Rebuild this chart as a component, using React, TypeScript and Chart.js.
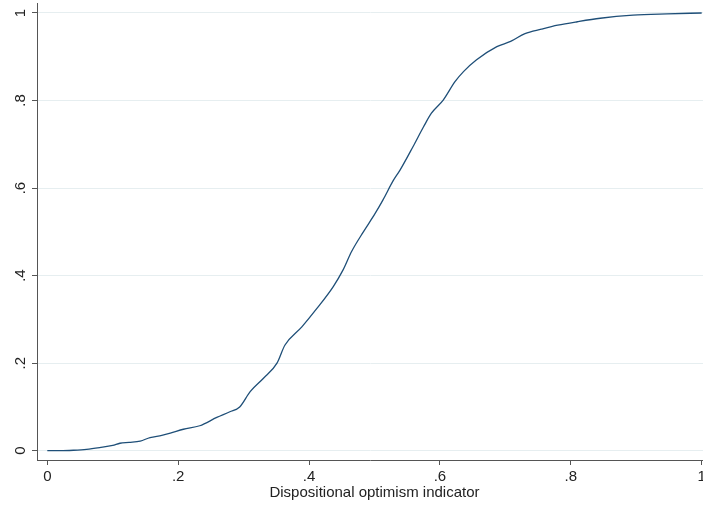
import React, { useEffect, useRef } from "react";
import { Chart, registerables } from "chart.js";

Chart.register(...registerables);

const optimismValues: number[] = [
  0, 0.02, 0.04, 0.06, 0.08, 0.1, 0.111, 0.125, 0.142, 0.157, 0.175, 0.188, 0.208, 0.233, 0.259, 0.279,
  0.294, 0.31, 0.33, 0.351, 0.363, 0.389, 0.412, 0.437, 0.452, 0.465, 0.483, 0.501, 0.513, 0.529, 0.539,
  0.559, 0.575, 0.587, 0.605, 0.623, 0.636, 0.656, 0.687, 0.708, 0.73, 0.755, 0.78, 0.81, 0.845, 0.895,
  0.947, 1.0,
];
const cumulativeShare: number[] = [
  0, 0, 0.001, 0.003, 0.007, 0.012, 0.017, 0.019, 0.022, 0.03, 0.035, 0.04, 0.049, 0.057, 0.076, 0.089,
  0.1, 0.135, 0.165, 0.2, 0.241, 0.283, 0.325, 0.375, 0.413, 0.455, 0.5, 0.542, 0.573, 0.618, 0.641,
  0.695, 0.74, 0.771, 0.801, 0.843, 0.866, 0.893, 0.923, 0.935, 0.953, 0.963, 0.972, 0.98, 0.988, 0.995,
  0.998, 1.0,
];
const xTicks: number[] = [0, 0.2, 0.4, 0.6, 0.8, 1];
const yTicks: number[] = [0, 0.2, 0.4, 0.6, 0.8, 1];
const xTitle = "Dispositional optimism indicator";

const FONT = '"Liberation Sans", Arial, sans-serif';
const fmt = (v: number) => {
  const r = Math.round(v * 10) / 10;
  if (r === 0) return "0";
  if (r === 1) return "1";
  return String(r).replace(/^0/, "");
};

const customText = {
  id: "customText",
  afterDraw(chart: any) {
    const ctx = chart.ctx;
    const y = chart.scales.y;
    const x = chart.scales.x;
    ctx.save();
    ctx.fillStyle = "#222";
    ctx.font = `15px ${FONT}`;
    ctx.textAlign = "center";
    ctx.textBaseline = "alphabetic";
    for (const v of yTicks) {
      const py = y.getPixelForValue(v);
      ctx.save();
      ctx.translate(24.5, py);
      ctx.rotate(-Math.PI / 2);
      ctx.fillText(fmt(v), 0, 0);
      ctx.restore();
    }
    ctx.fillText(xTitle, x.getPixelForValue(0.5), 497);
    ctx.restore();
  },
};

export default function App() {
  const ref = useRef<HTMLCanvasElement | null>(null);
  useEffect(() => {
    document.body.style.margin = "0";
    const canvas = ref.current!;
    const chart = new Chart(canvas, {
      type: "line",
      data: {
        datasets: [
          {
            data: optimismValues.map((v, i) => ({ x: v, y: cumulativeShare[i] })),
            borderColor: "#1f4f78",
            borderWidth: 1.3,
            pointRadius: 0,
            fill: false,
            cubicInterpolationMode: "monotone",
          },
        ],
      },
      options: {
        animation: false,
        responsive: false,
        layout: { padding: { top: 3, left: 0, right: 0, bottom: 0 } },
        plugins: { legend: { display: false }, tooltip: { enabled: false } },
        scales: {
          x: {
            type: "linear",
            min: -0.01574,
            max: 1.002,
            afterBuildTicks: (s: any) => {
              s.ticks = xTicks.map((v) => ({ value: v }));
            },
            afterFit: (s: any) => {
              s.height = 46;
              s.paddingLeft = 0;
              s.paddingRight = 0;
            },
            grid: { drawOnChartArea: false, drawTicks: true, tickLength: 5, tickColor: "#555" },
            border: { display: true, color: "#555", width: 1 },
            ticks: {
              color: "#222",
              font: { family: FONT, size: 15 },
              padding: 3,
              maxRotation: 0,
              minRotation: 0,
              callback: (v: any) => fmt(Number(v)),
            },
          },
          y: {
            type: "linear",
            min: -0.02125,
            max: 1.0228,
            afterBuildTicks: (s: any) => {
              s.ticks = yTicks.map((v) => ({ value: v }));
            },
            afterFit: (s: any) => {
              s.width = 37;
              s.paddingTop = 0;
              s.paddingBottom = 0;
            },
            grid: { drawOnChartArea: true, color: "#e6eef0", lineWidth: 1, drawTicks: true, tickLength: 5, tickColor: "#555" },
            border: { display: true, color: "#555", width: 1 },
            ticks: { display: false },
          },
        },
      } as any,
      plugins: [customText],
    });
    return () => chart.destroy();
  }, []);
  return (
    <div style={{ position: "fixed", left: 0, top: 0, width: 703, height: 506, background: "#fff" }}>
      <canvas ref={ref} width={703} height={506} style={{ width: 703, height: 506, display: "block" }} />
    </div>
  );
}
